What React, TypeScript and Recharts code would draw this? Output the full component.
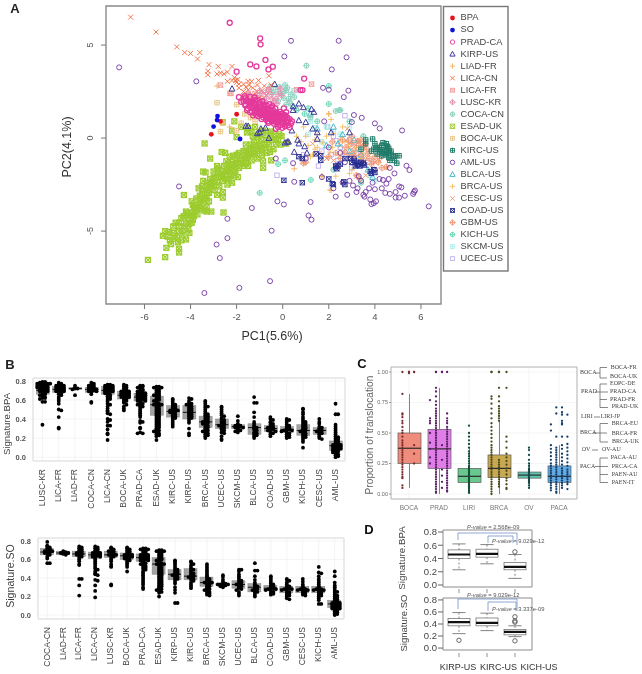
import React from "react";
import { ScatterChart, ComposedChart, Scatter, Bar, XAxis, YAxis, CartesianGrid, ReferenceArea } from "recharts";

type P = [number, number];
/* ---------- Panel A data: PC1 / PC2 ---------- */
const bpaPts: P[] = [[-3.1,.2],[-2.7,.9],[-2,1.28]];
const soPts: P[] = [[-3,.62],[-2.85,.97],[-2.83,1.18],[-1.85,-.05]];
const pradPts: P[] = [[-2.3,6.2],[-.98,5.36],[-.96,5.04],[-.75,4.2],[-1.41,3.96],[-1.14,3.85],[-.43,3.84],[-.62,3.69],[-2,3.57],[.93,3.2],[.77,2.58],[.86,2.58],[-1.9,2.2],[-1.8,1.95],[-1.65,2.25],[-1.62,1.75],
[-1.6,2.15],[-1.42,2.22],[-1.22,2.18],[-1.7,1.98],[-1.52,2.02],[-1.31,1.96],[-1.12,2.05],[-.88,1.98],[-1.62,1.82],[-1.38,1.78],[-1.18,1.84],[-1.02,1.76],[-.83,1.8],[-.58,1.82],[-1.52,1.6],[-1.33,1.63],[-1.08,1.58],[-.92,1.62],[-.72,1.57],[-.5,1.64],[-.32,1.6],[-1.33,1.42],[-1.12,1.38],[-.88,1.44],[-.72,1.36],[-.52,1.43],[-.28,1.38],[-.12,1.41],[-1.28,1.22],[-1.08,1.18],[-.92,1.24],[-.68,1.2],[-.48,1.17],[-.31,1.23],[-.08,1.19],[.12,1.22],[-.92,1.02],[-.72,.98],[-.52,1.04],[-.28,.97],[-.12,1.03],[.08,.98],[.3,1.02],[-.62,.82],[-.38,.78],[-.22,.84],[.02,.8],[.18,.83],[.36,.78],[-.2,.6],[.1,.63],[.3,.58],[-.4,1.1],[-.6,1.3],[-.8,1.5],[-1,1.3],[-.2,1.1],[0,1],[-.4,.9],[-.5,1.5],[-.7,1.1],[-1.2,1.5],[-1.4,1.9],[-.95,1.7],[-.1,.7],[-.3,.5],[.15,1.4],[.05,1.6],
[-1.45,1.72],[-1.25,1.7],[-1.15,1.6],[-1.05,1.48],[-.98,1.36],[-.82,1.3],[-.78,1.68],[-.65,1.5],[-.62,1.42],[-.58,1.24],[-.42,1.32],[-.42,1.5],[-.36,1.2],[-.2,1.3],[-.18,1.18],[-.05,1.3],[0,1.12],[.05,1.24],[.2,1.1],[.22,.95],[-.05,.9],[-.15,.95],[-.3,.88],[-.48,.95],[-.6,1.1],[-.75,1.3],[-.85,1.12],[-1.15,1.25],[-1.22,1.35],[-1,1.9],[-1.25,1.9],[-.7,1.75],[-.45,1.72],[.25,.7],[.4,.9],[.12,.72],[-.02,.55],[-1.55,1.5],[-1.42,1.4],[-1.45,1.95],[-1.2,2.05],[-.9,1.5],[-.65,.9],[.1,1.1]];
const kirpPts: P[] = [[-2.2,2.65],[-1.6,.65],[-1.5,.65],[-1.1,.25],[-1,.3],[-.95,.5],[-.75,.55],[-.6,0],[.2,-.2],[.25,-.2],[.65,-.1],[.1,-.25],[.45,1.7],[.7,1.85],[.9,1.65],[1.25,1.55],[1.35,1.4],[.45,1.5],[.7,.95],[1,.85],[1.3,.5],[.95,-.45],[.5,-.75],[1.05,-.8],[1.5,.3],[1.5,-.05],[2.1,.3],[-.35,2.9],[.4,.4],[2.9,.3],[.7,-.3]];
const liadPts: P[] = [[-2.85,2.8],[-2.6,.85],[.5,-1.65],[2,1.3],[1.7,-2.05],[2.1,-2.8],[-2.3,.6],[1.4,-.1]];
const licaCnPts: P[] = [[-6.6,6.5],[-5.5,5.7],[-4.6,4.9],[-4.25,4.6],[-4,4.55],[-3.6,4.6],[-3.7,4.25],[-3.2,3.95],[-3.25,3.6],[-3.25,3.4],[-2.8,3.85],[-2.85,3.45],[-2.7,3.5],[-2.55,3.45],[-2.4,3.55],[-2.2,3.85],[-2.4,3.05],[-2.2,3.1],[-2.1,3.25],[-2,3],[-1.9,2.9],[-1.7,2.9],[-1.5,3.05],[-1.35,3.05],[-1.05,3.1],[-.6,3.35],[-1.9,2.7],[-1.7,2.5],[-1.5,2.6],[-1.3,2.7],[-1.1,2.5],[-.8,2.8],[-.5,2.85],[-1.6,2.2],[-1.3,2.3],[-1,2.2],[-.9,2.55],[-.7,2.3],[-1.75,2.25],[-1.1,2.85],[-1.45,2.85],[-2.05,3.1],[-1.95,3.15],[-1.6,2.75]];
const licaFrPts: P[] = [[-2.7,2.85],[-2.25,2.4],[.6,2.6],[1.25,2.9],[4.55,-.5],[-1.2,2.4],[-.9,2.1],[-1.5,2.35],[-.6,2.6]];
const luscPts: P[] = [[-1.5,2.4],[-1.3,2.1],[-1.1,2.3],[-.9,2.4],[-.7,2.15],[-.5,2.35],[-.3,2.1],[-1.2,1.9],[-.8,2],[-.4,1.9],[-.6,2.6],[-.2,2.35],[-1.75,2.1],[-1.55,1.9],[-.45,2.1],[-.75,2.45],[-1,2.55],[-.25,1.85],[-.05,2.3],[-.1,2.65]];
const cocaPts: P[] = [[.1,2.85],[-.3,2.6],[-.1,2.4],[.15,2.55],[.35,2.35],[-.2,2],[.05,2.15],[.3,1.95],[.5,2.2],[-.45,2.45],[-.55,2.75],[.15,1.8],[1.03,3.89],[.6,1.5],[1.2,1.1],[2.3,1.45],[2.5,1.5],[.2,2.7],[-.15,2.75],[.05,2.5],[.25,2.1],[.42,1.75]];
const esadPts: P[] = [[-5.85,-6.55],[-5.1,-6.4],[-5.05,-5.9],[-4.5,-5.95],[-4.5,-6.15],[-5.2,-5.25],[-5.1,-5],[-4.95,-5.05],[-4.9,-5.5],[-4.65,-4.55],[-4.5,-4.55],[-4.35,-5.2],[-4.6,-5.3],[-4.55,-5.6],[-4.2,-5.45],[-4.35,-5],[-4.25,-4.75],[-4.5,-5],[-4.7,-5.4],[-4.05,-4.6],[-4.1,-4.3],[-3.95,-4],[-4.15,-4.05],[-4.2,-3.95],[-3.9,-3.6],[-3.8,-3.9],[-3.7,-4.1],[-3.55,-3.8],[-3.4,-3.9],[-3.3,-3.7],[-3.3,-3.95],[-3.6,-3.4],[-3.75,-3.25],[-4.29,-3.06],[-3.5,-3],[-3.3,-3.15],[-3.65,-2.7],[-3.5,-2.6],[-3.45,-2.3],[-3.2,-2.95],[-3.1,-2.6],[-3.35,-1.85],[-3.45,-1.8],[-3.15,-2.2],[-3.05,-2.4],[-2.9,-2.1],[-3,-1.8],[-2.85,-1.5],[-2.75,-2.6],[-2.6,-2.9],[-2.6,-3.2],[-2.7,-2.1],[-2.6,-2.3],[-2.5,-2],[-2.4,-1.7],[-2.35,-2.2],[-2.55,-1.5],[-2.3,-1.8],[-2.2,-1.3],[-2.3,-1],[-2.5,-.8],[-2.65,-.75],[-2.15,-1.65],[-2.1,-2],[-1.95,-2.1],[-1.9,-1.6],[-1.85,-1.2],[-1.7,-1.5],[-1.75,-.95],[-1.6,-.7],[-1.55,-1.1],[-1.45,-.8],[-1.35,-1.2],[-1.3,-.55],[-1.25,-.2],[-1.4,-.35],[-1.1,-.4],[-1.05,-.7],[-.9,-.9],[-.85,-1.25],[-.85,-1.6],[-.5,-1.2],[-.8,-.3],[-.7,-.1],[-.6,-.4],[-.4,-.6],[-.55,.1],[-.35,.2],[-.2,-.1],[-.1,-.35],[-.05,.1],[.15,-.3],[-.85,.4],[-1.05,.2],[-1.2,.6],[-1.55,.3],[-1.8,.6],[-2.1,.9],[-3.39,-.29],[-3.15,-1.1],[-2.6,.85],[-2.2,.4],[-2,.05],[-1.5,.55],[-1.3,.1],[-.95,-.05],[-2.57,-4],[-3.1,-3.95],[-3.9,-4.4],[-3.75,-3.6],[-3.4,-3.3],[-3.2,-3.4],[-3.6,-3.1],[-2.95,-2.8],[-2.85,-3.05],[-2.4,-2.5],[-2.2,-2.4],[-2.05,-1.4],[-1.6,-1.35],[-1.5,-1.5],[-4.05,-5.1],[-4.75,-5.1],[-4.4,-4.3],[-4.3,-4.2],[-3.7,-3.75],[-3.95,-3.4],[-3.3,-2.4],[-2.8,-1.9],[-2.45,-1.25],[-2,-.9],[-1.2,-.85],[-1.1,-1.1],
[-4.0,-4.15],[-3.85,-4.2],[-3.95,-4.55],[-3.85,-3.75],[-3.65,-3.7],[-3.55,-3.3],[-3.45,-3.5],[-3.35,-3.2],[-3.25,-2.8],[-3.4,-2.8],[-3.3,-2.6],[-3.15,-2.5],[-3,-2.55],[-3,-2.15],[-2.85,-2.35],[-2.8,-1.65],[-2.65,-1.85],[-2.45,-1.8],[-2.25,-1.55],[-2.6,-2],[-2.45,-2.2],[-2.25,-2.05],[-2.05,-1.75],[-1.95,-1.35],[-1.8,-1.35],[-1.65,-1.1],[-1.5,-.95],[-1.4,-.6],[-1.25,-.85],[-1.15,-.6],[-1,-.35],[-.9,-.6],[-.75,-.5],[-.7,-.8],[-.55,-.75],[-.45,-.1],[-.3,-.3],[-1.6,-.35],[-1.7,-.7],[-1.9,-.8],[-2,-1.15],[-2.15,-.95],[-2.35,-1.4],[-1.1,.05],[-.95,.3],[-.7,.25],[-.5,.35],[-.3,-.05],[-.15,.2],[-1.35,.35],[-4.2,-4.6],[-4.1,-4.9],[-4.5,-4.75],[-4.75,-4.75],[-5,-5.3],[-4.85,-5.7],[-4.4,-5.5]];
const bocaPts: P[] = [[-2.85,1.9],[-2.7,.35],[-2.6,.8],[-2,1.8],[-1.4,1.1],[-1.2,.9],[-.9,1.3],[-2.3,2.4],[-1.8,.8],[-2,.4],[-1.65,1.3]];
const kircPts: P[] = [[3.6,-.1],[3.9,-.05],[4,-.3],[4.2,-.5],[4.1,-.6],[4.3,-.4],[4.5,-.3],[4.5,-.6],[4.6,-.8],[4.45,-.9],[4.3,-.95],[4.6,-1.05],[4.7,-.7],[4.8,-1],[4.9,-.95],[5.05,-.95],[4.4,-.7],[3.95,-.6],[4.05,-.5],[4.55,-.45],[4.65,-1.2],[4.2,-.75],[3.85,-.7],[3.6,-.3],[4.95,-1.35],[4.85,-1.2],[3.4,-.6],[4.35,-.25],[4.6,-.55],[4.1,-.85],[4.5,-.75],[4.25,-.62],[4.62,-.68],[4.35,-.82],[4.7,-.9]];
const amlPts: P[] = [[-7.1,3.8],[-3.75,3.05],[-4.5,-2.6],[.36,5.23],[2.43,5.23],[2.77,4.34],[.07,4.39],[2.13,3.69],[-1.34,-3.76],[-2.4,-4.34],[-2.4,-5.38],[-2.87,-5.72],[-2.73,-6.45],[-.48,-4.98],[-.23,-3.4],[.05,-3.57],[1.21,-3.44],[1.12,-4.16],[1.25,-4.39],[-.55,-7.69],[-1.88,-8.05],[-3.4,-8.33],[6.34,-3.67],[5.18,.41],[5.7,-2.9],[5.74,-2.82],[5.66,-3],[5.37,-1.49],[5.5,-1.72],[3.09,1.24],[3.43,1.09],[4,.79],[4.21,.52],[3,.86],[3.6,-2.9],[3.8,-3.3],[3.95,-3.5],[4.05,-3.4],[3.85,-3.55],[3.5,-3.05],[3.55,-3.15],[2.3,-3.15],[2.8,-3.05],[3.25,-2.7],[3.4,-2.3],[3.9,-2.4],[4,-2.75],[3.75,-2.7],[4.3,-2.7],[4.45,-2.95],[4.5,-2.45],[4.65,-3],[4.9,-2.9],[4.9,-3.2],[5.05,-3.2],[5.3,-3.1],[5.05,-2.6],[5.15,-2.65],[4.6,-2.2],[4.85,-1.9],[4.2,-2.2],[2.6,-2.4],[1.7,-2.1],[2.9,-2.3],[3.2,-2.9],[2.2,-2.7],[-.3,-1.1],[.45,-1.35],[.5,-2.35],[1,-1.1],[2.3,-1.6],[2.7,-1.3],[3.1,-1.1],[3.5,-1.4],[4,-1.7],[2.5,-.8],[2,-.5],[1.8,.9],[2,2.6],[1.75,2.7],[2.65,2.2],[2.85,2.55],[4.65,-1.6],[3.3,-2.05],[3.05,-2.55],[4.35,-2.25]];
const blcaPts: P[] = [[.6,1.6],[1.2,1.3],[1.5,.5],[2.2,.6],[2.6,.2],[3.1,-.1],[2.9,-.7],[3.4,-.9],[3.7,-1.7],[1.9,-.4],[2.4,-.3],[3.9,-2.1]];
const brcaPts: P[] = [[2.05,-2.8],[1.7,-2.05],[2,1.3],[2.1,1],[1.5,-.5],[1.3,-.9],[1.5,.2],[1.9,.1],[2.15,-.5],[2.4,-.9],[2.7,-.2],[3,-1.7],[2.3,-2.05],[2.9,-1.9],[1,.1],[1.2,-1],[2.6,.6],[3.2,-.5],[3.5,-.8],[.9,.6],[.6,.1],[1.4,-.6],[1.75,-.25],[2.05,-.75],[2.2,.25],[2.5,-.1],[2.85,-.45],[3.05,-.85],[3.35,-1.1],[.8,-.2],[1.1,-.4]];
const cescPts: P[] = [[1.3,-.3],[1.6,-.8],[1.9,-1.1],[2.2,-1.2],[2.5,-.4],[3,-.6],[3.3,-.2],[3.6,-1],[4,-1.3],[4.5,-1.6],[.9,-1.3],[3.6,-2],[3.2,-2.05],[2.8,.5],[2.6,-.75],[2.9,-.25],[3.15,-.4],[3.55,-.55]];
const coadPts: P[] = [[.05,-2.27],[.85,-2.4],[2,-2.2],[2.15,-2.45],[2.2,-2.5],[2.65,-2.35],[2.7,-2.5],[2.5,-1.4],[2.4,-1.5],[2.3,-1.5],[2.35,-1.65],[2.7,-1.1],[2.95,-1.1],[3,-1.3],[3.1,-1.2],[3.2,-1.3],[3.3,-1.4],[3.4,-1.3],[3.5,-1.35],[3.55,-1.45],[3.35,-1.5],[3.25,-1.45],[3.8,-1.8],[3.85,-1.9],[3.95,-1.7],[4,-1.85],[.7,-1],[.85,-1.1],[1.65,-1.2],[1.65,-.95],[1.45,-.85],[3.15,-1.5]];
const gbmPts: P[] = [[2,-1],[2.3,-.8],[2.5,-1.1],[2.75,-.5],[2.9,-.9],[3,-.3],[3.15,-.7],[3.3,-.4],[3.4,-.9],[3.5,-1.2],[3.65,-.6],[3.75,-1.1],[3.85,-1.4],[4,-1],[4.15,-1.3],[4.3,-1.6],[3.2,-2],[3.35,-2.2],[.9,-1.35],[1,-1.3],[2.6,-.1],[3,.1],[3.4,-.1],[4.5,-1.55],[2.15,-.2],[2.85,-.15],[3.25,-.15],[3.55,-.35],[3.7,-.85],[3.1,-.95],[2.7,-.75],[4.2,-1.1],[3.95,-1.25]];
const kichPts: P[] = [[2,2.8],[2,1.83],[-1,-2.95],[1.22,-2.25],[1.5,.9],[.1,-1.2],[-.2,-1.4],[2.45,1.5],[3.5,.1],[2.9,.9],[3.4,-2.4],[2.2,-1.7],[1.1,1.6],[.95,1.3]];
const skcmPts: P[] = [[.5,2.55],[1.2,.9],[1.9,.6],[2.5,.2],[2.9,.6],[3.3,-.6],[3.8,-2],[1.1,.2],[1.7,-.2],[4,-2.3],[1.4,.55],[2.2,.35]];
const ucecPts: P[] = [[.5,2.55],[-.25,-2],[1.55,-1.5],[2.7,1.2],[1.95,.6],[2.2,.1],[2.5,-.5],[2.9,-.1],[3.2,-.8],[3.45,-.3],[3.7,-1.3],[2.4,-1.2],[.9,-.9],[1.7,-.7],[3,-1.6],[2.1,-.9],[2.35,-.15],[2.75,-.95],[3.1,-.25],[3.3,-1.1]];

const pcaLegend = ["BPA","SO","PRAD-CA","KIRP-US","LIAD-FR","LICA-CN","LICA-FR","LUSC-KR","COCA-CN","ESAD-UK","BOCA-UK","KIRC-US","AML-US","BLCA-US","BRCA-US","CESC-US","COAD-US","GBM-US","KICH-US","SKCM-US","UCEC-US"];
const pcaSeries: Record<string, P[]> = {"BPA":bpaPts,"SO":soPts,"PRAD-CA":pradPts,"KIRP-US":kirpPts,"LIAD-FR":liadPts,"LICA-CN":licaCnPts,"LICA-FR":licaFrPts,"LUSC-KR":luscPts,"COCA-CN":cocaPts,"ESAD-UK":esadPts,"BOCA-UK":bocaPts,"KIRC-US":kircPts,"AML-US":amlPts,"BLCA-US":blcaPts,"BRCA-US":brcaPts,"CESC-US":cescPts,"COAD-US":coadPts,"GBM-US":gbmPts,"KICH-US":kichPts,"SKCM-US":skcmPts,"UCEC-US":ucecPts};
const pcaStyle: Record<string,[string,string]> = {"BPA":["dot","#e8121c"],"SO":["dot","#1010e0"],"PRAD-CA":["circle","#e4389a"],"KIRP-US":["tri","#3d3a9a"],"LIAD-FR":["plus","#f0b060"],"LICA-CN":["x","#f26a3c"],"LICA-FR":["sqx","#f09a98"],"LUSC-KR":["dia","#e48fb0"],"COCA-CN":["cplus","#88d0bc"],"ESAD-UK":["sqstar","#9ccc2e"],"BOCA-UK":["sqplus","#e8c88c"],"KIRC-US":["sqplus","#1f7a68"],"AML-US":["circle","#7236a4"],"BLCA-US":["tri","#44b8c8"],"BRCA-US":["plus","#f2c060"],"CESC-US":["x","#f0906a"],"COAD-US":["sqx","#252b90"],"GBM-US":["dia","#f09470"],"KICH-US":["cplus","#68d8b4"],"SKCM-US":["sqplus","#b4ecec"],"UCEC-US":["square","#bdaeec"]};
const pcaDrawOrder = ["ESAD-UK","UCEC-US","SKCM-US","KICH-US","BRCA-US","CESC-US","BLCA-US","LIAD-FR","BOCA-UK","COCA-CN","LICA-FR","GBM-US","AML-US","KIRC-US","COAD-US","KIRP-US","LICA-CN","LUSC-KR","PRAD-CA","BPA","SO"];

function Marker({ kind, color, cx, cy, r = 2.5, sw = 0.9 }: any) {
  const c = { stroke: color, strokeWidth: sw, fill: "none" };
  const h = r, l = r + 0.4;
  const plus = <path d={`M${cx-l} ${cy}H${cx+l}M${cx} ${cy-l}V${cy+l}`} {...c} />;
  const ex = <path d={`M${cx-h} ${cy-h}L${cx+h} ${cy+h}M${cx-h} ${cy+h}L${cx+h} ${cy-h}`} {...c} />;
  switch (kind) {
    case "dot": return <circle cx={cx} cy={cy} r={2.4} fill={color} />;
    case "circle": return <circle cx={cx} cy={cy} r={r} {...c} />;
    case "tri": return <path d={`M${cx} ${cy-r-0.6}L${cx+r+0.4} ${cy+r-0.2}H${cx-r-0.4}Z`} {...c} strokeWidth={1} />;
    case "plus": return plus;
    case "x": return ex;
    case "square": return <rect x={cx-r+0.3} y={cy-r+0.3} width={2*r-0.6} height={2*r-0.6} {...c} />;
    case "sqx": return <g><rect x={cx-r+0.3} y={cy-r+0.3} width={2*r-0.6} height={2*r-0.6} {...c} />{ex}</g>;
    case "sqplus": return <g><rect x={cx-r+0.3} y={cy-r+0.3} width={2*r-0.6} height={2*r-0.6} {...c} />{plus}</g>;
    case "sqstar": return <g><rect x={cx-r} y={cy-r} width={2*r} height={2*r} {...c} />{ex}</g>;
    case "cplus": return <g><circle cx={cx} cy={cy} r={r} {...c} />{plus}</g>;
    case "dia": return <g><path d={`M${cx} ${cy-r-0.6}L${cx+r+0.6} ${cy}L${cx} ${cy+r+0.6}L${cx-r-0.6} ${cy}Z`} {...c} />{plus}</g>;
    default: return null;
  }
}

/* ---------- Panel B data ---------- */
const bpaOrder = ["LUSC-KR","LICA-FR","LIAD-FR","COCA-CN","LICA-CN","BOCA-UK","PRAD-CA","ESAD-UK","KIRC-US","KIRP-US","BRCA-US","UCEC-US","SKCM-US","BLCA-US","COAD-US","GBM-US","KICH-US","CESC-US","AML-US"];
const bpaBox = [[.66,.70,.77,.58,.79],[.68,.71,.74,.59,.78],[.71,.72,.73,.65,.75],[.68,.71,.73,.58,.78],[.66,.70,.74,.5,.76],[.61,.65,.69,.49,.76],[.59,.63,.67,.45,.75],[.44,.55,.64,.18,.74],[.42,.48,.54,.32,.61],[.40,.47,.54,.23,.62],[.31,.37,.43,.2,.59],[.30,.34,.40,.18,.53],[.30,.32,.34,.26,.43],[.24,.31,.35,.2,.47],[.27,.30,.33,.22,.42],[.26,.29,.32,.2,.4],[.23,.28,.34,.1,.51],[.24,.28,.31,.19,.4],[.07,.12,.17,0,.34]];
const bpaVals = [
[.79,.79,.78,.78,.78,.77,.77,.77,.76,.76,.76,.75,.75,.74,.74,.74,.73,.73,.72,.72,.71,.71,.7,.7,.69,.69,.68,.67,.66,.66,.65,.64,.63,.62,.62,.61,.58,.58,.34],
[.78,.77,.76,.76,.75,.75,.74,.74,.73,.73,.72,.72,.71,.71,.7,.7,.69,.69,.68,.67,.66,.65,.63,.61,.59,.56,.5,.49,.42,.31,.3],
[.75,.73,.72,.72,.71,.65],
[.78,.77,.76,.75,.75,.74,.73,.73,.72,.72,.71,.71,.7,.7,.69,.69,.68,.66,.58,.57],
[.76,.76,.75,.75,.74,.74,.73,.73,.72,.72,.71,.71,.7,.7,.69,.69,.68,.68,.67,.66,.65,.64,.63,.62,.61,.6,.58,.56,.55,.53,.51,.49,.48,.46,.45,.4,.39,.37,.33,.33,.29,.25,.24,.18],
[.76,.75,.74,.73,.72,.71,.7,.7,.69,.69,.68,.68,.67,.67,.66,.66,.65,.65,.64,.64,.63,.63,.62,.61,.6,.59,.58,.57,.55,.53,.51,.49],
[.75,.75,.74,.74,.73,.72,.71,.7,.7,.69,.68,.68,.67,.67,.66,.66,.65,.65,.64,.64,.63,.63,.62,.62,.61,.61,.6,.6,.59,.59,.58,.57,.56,.55,.54,.53,.52,.5,.48,.46,.44,.42,.38,.37,.36,.31,.3,.26,.25,.25],
[.74,.74,.73,.73,.72,.71,.7,.69,.68,.67,.66,.65,.65,.64,.63,.62,.61,.6,.6,.59,.58,.57,.56,.55,.55,.54,.53,.52,.51,.5,.49,.48,.47,.46,.45,.44,.43,.42,.41,.4,.39,.38,.37,.36,.35,.34,.33,.32,.31,.3,.29,.28,.27,.26,.25,.24,.23,.22,.18],
[.61,.6,.58,.56,.55,.54,.53,.52,.51,.5,.5,.49,.49,.48,.48,.47,.46,.45,.44,.43,.42,.41,.4,.38,.36,.34,.32],
[.62,.61,.59,.57,.56,.55,.54,.53,.52,.51,.5,.49,.48,.47,.46,.45,.44,.43,.42,.41,.4,.38,.36,.3,.25,.23],
[.59,.58,.56,.54,.53,.52,.5,.48,.46,.45,.44,.43,.42,.41,.4,.39,.38,.37,.37,.36,.36,.35,.34,.33,.32,.31,.3,.29,.28,.27,.26,.25,.24,.23,.22,.2],
[.53,.52,.5,.48,.46,.44,.43,.41,.4,.39,.38,.37,.36,.35,.34,.34,.33,.32,.31,.3,.29,.28,.26,.25,.22,.19,.18],
[.43,.38,.35,.34,.33,.33,.32,.32,.31,.31,.3,.29,.28,.27,.26],
[.63,.57,.57,.47,.42,.37,.35,.33,.32,.31,.3,.29,.28,.26,.25,.24,.23,.22,.2],
[.42,.4,.39,.37,.36,.35,.34,.33,.32,.31,.31,.3,.3,.29,.29,.28,.27,.26,.25,.24,.22],
[.4,.39,.38,.36,.34,.33,.32,.31,.3,.3,.29,.29,.28,.28,.27,.26,.25,.24,.23,.22,.21,.2],
[.51,.5,.47,.45,.42,.4,.38,.37,.36,.35,.34,.33,.32,.31,.3,.3,.29,.28,.27,.26,.25,.24,.23,.22,.21,.2,.18,.16,.1],
[.4,.37,.35,.32,.31,.3,.29,.28,.27,.26,.25,.24,.22,.2,.19],
[.56,.45,.45,.34,.32,.3,.28,.26,.24,.22,.21,.2,.19,.18,.17,.16,.15,.14,.14,.13,.13,.12,.12,.11,.11,.1,.1,.09,.09,.08,.08,.07,.06,.06,.05,.04,.03,.02,.01,0]];
const soOrder = ["COCA-CN","LIAD-FR","LICA-FR","LICA-CN","LUSC-KR","BOCA-UK","PRAD-CA","ESAD-UK","KIRP-US","KIRC-US","BRCA-US","SKCM-US","UCEC-US","BLCA-US","COAD-US","GBM-US","CESC-US","KICH-US","AML-US"];
const soBox = [[.65,.68,.72,.56,.79],[.65,.67,.69,.65,.69],[.63,.66,.69,.55,.74],[.61,.65,.68,.49,.74],[.62,.65,.69,.52,.73],[.6,.64,.67,.47,.73],[.58,.62,.66,.43,.72],[.44,.55,.62,.2,.7],[.38,.44,.49,.24,.59],[.38,.42,.5,.29,.58],[.31,.35,.41,.21,.55],[.32,.33,.34,.3,.43],[.29,.33,.37,.21,.49],[.25,.3,.34,.2,.48],[.26,.29,.32,.22,.42],[.24,.28,.31,.17,.39],[.24,.27,.31,.21,.39],[.24,.27,.31,.16,.46],[.08,.12,.16,0,.3]];
const soVals = [
[.79,.75,.74,.73,.72,.71,.7,.7,.69,.69,.68,.68,.67,.66,.65,.63,.61,.56,.56],
[.69,.68,.68,.67,.67,.66,.65],
[.74,.73,.72,.71,.7,.69,.68,.67,.67,.66,.66,.65,.64,.63,.62,.6,.58,.55,.54,.39,.39,.32,.21],
[.74,.73,.72,.71,.7,.69,.68,.68,.67,.67,.66,.66,.65,.65,.64,.64,.63,.63,.62,.6,.58,.56,.54,.52,.5,.49,.47,.45,.44,.43,.38,.37,.32,.26,.19],
[.73,.72,.71,.7,.69,.69,.68,.67,.66,.66,.65,.65,.64,.63,.62,.6,.58,.55,.53,.52,.33,.32],
[.73,.72,.71,.7,.69,.68,.67,.66,.66,.65,.65,.64,.64,.63,.63,.62,.62,.61,.6,.59,.58,.56,.54,.52,.47],
[.72,.72,.71,.71,.7,.69,.68,.67,.66,.66,.65,.65,.64,.64,.63,.63,.62,.62,.61,.61,.6,.6,.59,.59,.58,.57,.56,.55,.54,.53,.52,.51,.5,.49,.47,.45,.43,.41,.39,.37,.35,.33,.3,.28],
[.7,.7,.69,.69,.68,.67,.66,.65,.64,.63,.62,.61,.6,.6,.59,.58,.57,.56,.55,.55,.54,.53,.52,.51,.5,.49,.48,.47,.46,.45,.44,.43,.42,.41,.4,.39,.38,.37,.36,.35,.34,.33,.32,.31,.3,.29,.28,.27,.26,.25,.24,.2],
[.59,.58,.56,.54,.52,.5,.49,.48,.47,.46,.45,.44,.44,.43,.42,.41,.4,.39,.38,.36,.34,.3,.27,.24,.13,.13],
[.58,.57,.55,.54,.52,.5,.49,.48,.46,.45,.44,.43,.42,.42,.41,.4,.39,.38,.37,.35,.33,.31,.29],
[.55,.53,.51,.49,.47,.45,.43,.42,.4,.39,.38,.37,.36,.36,.35,.35,.34,.33,.32,.31,.3,.29,.28,.27,.26,.25,.24,.23,.22,.21],
[.43,.41,.38,.36,.34,.34,.33,.33,.33,.32,.32,.31,.3],
[.49,.49,.47,.44,.42,.4,.38,.37,.36,.35,.34,.33,.33,.32,.31,.3,.29,.28,.27,.25,.23,.21],
[.56,.48,.48,.42,.38,.35,.33,.32,.31,.3,.29,.28,.27,.26,.25,.24,.22,.2],
[.42,.4,.38,.36,.34,.33,.32,.31,.3,.3,.29,.29,.28,.28,.27,.26,.25,.24,.23,.22],
[.39,.38,.37,.35,.33,.32,.31,.3,.3,.29,.29,.28,.28,.27,.26,.25,.24,.23,.22,.21,.2,.18,.17],
[.39,.36,.33,.31,.3,.29,.28,.28,.27,.27,.26,.25,.24,.23,.22,.21],
[.52,.46,.45,.42,.39,.37,.35,.33,.31,.3,.29,.28,.28,.27,.27,.26,.25,.24,.23,.22,.21,.2,.18,.16,.12,.12],
[.47,.42,.35,.32,.3,.28,.26,.25,.24,.22,.21,.2,.19,.18,.17,.16,.15,.14,.14,.13,.13,.12,.12,.11,.11,.1,.1,.09,.09,.08,.08,.07,.07,.06,.05,.04,.03,.02,.01,0]];

/* ---------- Panel C data ---------- */
const transCats = ["BOCA","PRAD","LIRI","BRCA","OV","PACA"];
const transBox = [[.25,.375,.5,.05,.82],[.21,.37,.53,0,.87],[.095,.145,.21,0,.38],[.135,.21,.32,0,.6],[.13,.155,.18,.06,.25],[.095,.145,.23,0,.4]];
const transFill = ["#f08c7c","#e07ee8","#68c88e","#c8a850","#60c4b0","#62aae2"];
const transDot = ["#7a3030","#5a1f66","#13503a","#4a4a1e","#134a48","#143f6c"];
const transOffsets = [[-.22,0,.17],[-.3,-.1,.1,.27],[0],[-.25,0,.25],[0],[-.27,-.09,.1,.28]];
const transVals: number[][][] = [
[[1,.82,.66,.65,.63,.6,.58,.55,.52,.5,.47,.44,.42,.4,.38,.36,.34,.32,.3,.28,.26,.24,.22,.2,.18,.16,.14,.13,.07,.05],[1,1,.99],[1,1,.4,.33,.25]],
[[.77,.62,.6,.58,.5,.42,.37,.3,.25],[1,1,.87,.84,.8,.76,.73,.7,.68,.66,.64,.62,.6,.58,.56,.54,.52,.5,.48,.46,.44,.42,.4,.38,.36,.34,.32,.3,.28,.26,.24,.22,.2,.18,.16,.14,.12,.1,.08,.06,.04,.02,.01],[1,1,.4,.28,.2,.15,.1,.05],[1,.66,.62,.6,.58,.55,.53,.51,.49,.47,.45,.43,.41,.39,.37,.35,.33,.31,.29,.27,.25,.23,.21,.19,.17,.15,.13,.11,.09,.07,.05,.03,.02]],
[[.56,.5,.47,.44,.41,.38,.35,.33,.31,.29,.27,.25,.23,.22,.21,.2,.19,.18,.17,.16,.15,.14,.13,.12,.11,.1,.09,.08,.07,.06,.05,.04,.03,.02,.01]],
[[1,1,.8,.78,.74,.7,.66,.62,.58,.55,.52,.49,.46,.43,.4,.38,.36,.34,.32,.3,.28,.26,.24,.22,.2,.18,.16,.14,.12,.1,.08,.06,.04,.02,0],[1,1,.87,.8,.76,.72,.7,.68,.66,.64,.62,.6,.28,.26,.24,.22,.2,.18,.16,.14,.12,.1,.08,.06],[1,.87,.47,.43,.38,.33,.3,.27,.24,.21,.19,.16,.13,.11,.08,.05,.04]],
[[.38,.36,.32,.28,.25,.23,.21,.2,.19,.18,.17,.16,.15,.14,.13,.12,.11,.1,.09,.07,.05]],
[[.57,.52,.4,.37,.34,.31,.28,.25,.23,.21,.19,.17,.15,.13,.11,.09,.07,.05,.03],[.71,.66,.47,.38,.36,.34,.32,.3,.28,.26,.24,.22,.2,.18,.16,.14,.12,.1,.08,.06,.04,.02,.01],[.71,.67,.65,.6,.58,.57,.47,.4,.37,.33,.3,.27,.24,.21,.19,.17,.15,.13,.11,.09,.07,.05],[.65,.47,.41,.38,.35,.32,.29,.26,.23,.2,.18,.16,.14,.12,.1,.08,.04]]];
const treeLabels: [string,number,number][] = [["BOCA",580,373],["BOCA-FR",610.7,368],["BOCA-UK",610,377],["PRAD",581,392],["EOPC-DE",610,384],["PRAD-CA",610,392],["PRAD-FR",610,399.5],["PRAD-UK",611.7,407],["LIRI",581,417],["LIRI-JP",600.7,417],["BRCA",580,433],["BRCA-EU",611.7,424],["BRCA-FR",611.7,433.5],["BRCA-UK",612,442],["OV",581.7,450],["OV-AU",602,450],["PACA",580,466.5],["PACA-AU",610.7,458],["PRCA-CA",611.7,467],["PAEN-AU",611.7,475],["PAEN-IT",611.7,483]];
const treeLines = "M596 373H600M600 367.5V378M600 367.5H607M600 378H607M595 392H608M600 384V407.5M600 384H607M600 399.5H607M600 407.5H608M594 417H600M593 433H607M600 423.5V442M600 423.5H608M600 442H608M592 450H598M595 466.5H608M600 458V482.5M600 458H608M600 474.5H608M600 482.5H608";

/* ---------- Panel D data ---------- */
const dCats = ["KIRP-US","KIRC-US","KICH-US"];
const dBpaBox = [[.40,.46,.53,.23,.62],[.42,.47,.54,.32,.61],[.23,.275,.34,.10,.46]];
const dSoBox = [[.37,.43,.49,.24,.59],[.37,.42,.50,.29,.58],[.22,.27,.31,.19,.37]];
const dBpaOut: P[] = [[3,.5]];
const dSoOut: P[] = [[1,.13],[3,.52],[3,.45],[3,.43],[3,.12]];

function BoxShape(p: any) {
  const { x, y, width, height, payload, line, medianW = 1.6, medianC = "#000", whisk, fill, fo, st, dash, cap = 0.6 } = p;
  const b = payload.box;
  const top = Math.min(y, y + height);
  const unit = Math.abs(height) / (b[2] - b[0]);
  const Y = (v: number) => top + (b[2] - v) * unit;
  const cx = x + width / 2;
  const capW = width * cap / 2;
  return (
    <g>
      {whisk && <path d={`M${cx} ${Y(b[4])}V${Y(b[2])}M${cx} ${Y(b[0])}V${Y(b[3])}`} stroke={whisk} strokeWidth={0.8} strokeDasharray={dash} fill="none" />}
      {whisk && dash && <path d={`M${cx-capW} ${Y(b[4])}H${cx+capW}M${cx-capW} ${Y(b[3])}H${cx+capW}`} stroke={whisk} strokeWidth={0.8} fill="none" />}
      <rect x={x} y={top} width={width} height={Math.abs(height)} fill={payload.fill || fill} fillOpacity={fo} stroke={st} strokeWidth={line} />
      <line x1={x} x2={x + width} y1={Y(b[1])} y2={Y(b[1])} stroke={medianC} strokeWidth={medianW} />
    </g>
  );
}

function swarm(vals: number[], center: number, step: number) {
  const seen: Record<number, number> = {};
  return vals.map((v) => {
    const key = Math.round(v * 50);
    const k = seen[key] || 0;
    seen[key] = k + 1;
    const off = k === 0 ? 0 : (k % 2 ? 1 : -1) * Math.ceil(k / 2) * step;
    return { x: center + off, y: v };
  });
}

const fontSans = "'Liberation Sans', Arial, sans-serif";
const RotTick = ({ x, y, payload, fs = 8.5, c = "#444" }: any) => (
  <text x={x} y={y} transform={`rotate(-90 ${x} ${y})`} textAnchor="end" dominantBaseline="middle" fontSize={fs} fill={c} fontFamily={fontSans}>{payload.value}</text>
);
const Lbl = ({ x, y, t, fs, c = "#555", rot, bold, ff = fontSans, anchor = "middle", italic }: any) => (
  <text x={x} y={y} transform={rot ? `rotate(-90 ${x} ${y})` : undefined} textAnchor={anchor} dominantBaseline="middle" fontSize={fs} fill={c} fontWeight={bold ? 700 : 400} fontFamily={ff} fontStyle={italic ? "italic" : undefined}>{t}</text>
);

function StripChart({ cats, box, vals, left, top, width, height, plotLeft, plotRight, plotTop, plotBottom, domain }: any) {
  const rows = cats.map((c: string, i: number) => ({ name: c, range: [box[i][0], box[i][2]], box: box[i] }));
  const pts = vals.flatMap((v: number[], i: number) => swarm(v, i + 1, 0.16));
  return (
    <div style={{ position: "absolute", left, top }}>
      <ComposedChart width={width} height={height} data={rows} margin={{ top: plotTop, left: 0, right: width - plotRight, bottom: 0 }}>
        <CartesianGrid stroke="#ececec" strokeWidth={0.6} />
        <XAxis dataKey="name" type="category" interval={0} height={height - plotBottom} padding={{ left: 1.3, right: 1.3 }} tick={<RotTick />} tickLine={false} axisLine={false} tickMargin={2} />
        <XAxis xAxisId="n" dataKey="x" type="number" domain={[.42, 19.58]} hide allowDataOverflow />
        <YAxis dataKey="y" type="number" domain={domain} ticks={[0, .2, .4, .6, .8]} interval={0} width={plotLeft} tickFormatter={(v: number) => v.toFixed(1)} tick={{ fontSize: 7.5, fill: "#555", fontFamily: fontSans, fontWeight: 700 }} tickLine={false} axisLine={false} tickMargin={1} allowDataOverflow />
        <ReferenceArea xAxisId="n" x1={.42} x2={19.58} y1={domain[0]} y2={domain[1]} fill="none" stroke="#dcdcdc" strokeWidth={1} />
        <Scatter xAxisId="n" data={pts} isAnimationActive={false} shape={(p: any) => <circle cx={p.cx} cy={p.cy} r={1.9} fill="#000" />} />
        <Bar dataKey="range" barSize={13} isAnimationActive={false} shape={(p: any) => <BoxShape {...p} fill="#666" fo={0.6} st="#888" line={0.5} medianC="#111" medianW={1} />} />
      </ComposedChart>
    </div>
  );
}

function PanelC() {
  const rows = transCats.map((c, i) => ({ name: c, range: [transBox[i][0], transBox[i][2]], box: transBox[i], fill: transFill[i] }));
  const groups = transVals.map((g, i) => g.flatMap((col, j) => col.map((v) => ({ x: i + 1 + transOffsets[i][j], y: v }))));
  const domain = [-.041, 1.041];
  return (
    <div style={{ position: "absolute", left: 350, top: 340 }}>
      <ComposedChart width={240} height={175} data={rows} margin={{ top: 27, left: 41 - 30, right: 13, bottom: 0 }}>
        <CartesianGrid stroke="#eeeeee" strokeWidth={0.6} />
        <XAxis dataKey="name" type="category" interval={0} height={16} padding={{ left: 3, right: 3 }} tick={{ fontSize: 6.5, fill: "#777", fontFamily: fontSans }} tickLine={false} axisLine={false} tickMargin={0} />
        <XAxis xAxisId="n" dataKey="x" type="number" domain={[.4, 6.6]} hide allowDataOverflow />
        <YAxis dataKey="y" type="number" domain={domain} ticks={[0, .25, .5, .75, 1]} interval={0} width={30} tickFormatter={(v: number) => v.toFixed(2)} tick={{ fontSize: 5.5, fill: "#666", fontFamily: fontSans }} tickSize={2} stroke="#999" axisLine={false} tickMargin={1} allowDataOverflow />
        <ReferenceArea xAxisId="n" x1={.4} x2={6.6} y1={domain[0]} y2={domain[1]} fill="none" stroke="#b5b5b5" strokeWidth={1} />
        <Bar dataKey="range" barSize={23} isAnimationActive={false} shape={(p: any) => <BoxShape {...p} fo={1} st="#5c5c5c" line={0.7} medianC="#2c2c2c" medianW={1.2} whisk="#666" />} />
        {groups.map((g, i) => (
          <Scatter key={transCats[i]} xAxisId="n" data={g} isAnimationActive={false} shape={(p: any) => <circle cx={p.cx} cy={p.cy} r={1.15} fill={transDot[i]} />} />
        ))}
      </ComposedChart>
    </div>
  );
}

function PanelD({ box, out, top, height, plotTop, domain }: any) {
  const rows = dCats.map((c, i) => ({ name: c, range: [box[i][0], box[i][2]], box: box[i] }));
  const pts = out.map((o: P) => ({ x: o[0], y: o[1] }));
  return (
    <div style={{ position: "absolute", left: 400, top }}>
      <ComposedChart width={140} height={height} data={rows} margin={{ top: plotTop, left: 13, right: 8, bottom: 0 }}>
        <XAxis dataKey="name" type="category" interval={0} height={8} padding={{ left: 2, right: 3 }} tick={false} tickSize={5} stroke="#888" axisLine={false} />
        <XAxis xAxisId="n" dataKey="x" type="number" domain={[.43, 3.61]} hide allowDataOverflow />
        <YAxis dataKey="y" type="number" domain={domain} ticks={[0, .2, .4, .6, .8]} interval={0} width={30} tickFormatter={(v: number) => v.toFixed(1)} tick={{ fontSize: 9.5, fill: "#444", fontFamily: fontSans }} tickSize={5} stroke="#666" axisLine={false} tickMargin={1} allowDataOverflow />
        <ReferenceArea xAxisId="n" x1={.43} x2={3.61} y1={domain[0]} y2={domain[1]} fill="none" stroke="#8c8c8c" strokeWidth={1} />
        <Bar dataKey="range" barSize={22} isAnimationActive={false} shape={(p: any) => <BoxShape {...p} fill="#fff" fo={1} st="#777" line={0.8} medianC="#111" medianW={2.2} whisk="#666" dash="2 2" />} />
        <Scatter xAxisId="n" data={pts} isAnimationActive={false} shape={(p: any) => <circle cx={p.cx} cy={p.cy} r={2.2} fill="none" stroke="#555" strokeWidth={0.9} />} />
      </ComposedChart>
    </div>
  );
}

const RotY = ({ x, y, payload }: any) => (
  <text x={x - 6} y={y} transform={`rotate(-90 ${x - 6} ${y})`} textAnchor="middle" fontSize={9} fill="#555" fontFamily={fontSans}>{payload.value}</text>
);

function Overlay() {
  return (
    <svg width={642} height={674} style={{ position: "absolute", left: 0, top: 0, pointerEvents: "none" }}>
      <Lbl x={15} y={10} t="A" fs={13} bold c="#222" />
      <Lbl x={10} y={366} t="B" fs={13} bold c="#222" />
      <Lbl x={362} y={365} t="C" fs={13} bold c="#111" />
      <Lbl x={369} y={531} t="D" fs={13} bold c="#111" />
      <Lbl x={272} y={337} t="PC1(5.6%)" fs={12.5} c="#333" />
      <Lbl x={68} y={147} t="PC2(4.1%)" fs={12.5} c="#333" rot />
      <Lbl x={7} y={424} t="Signature.BPA" fs={9.6} c="#444" rot />
      <Lbl x={11} y={576} t="Signature.SO" fs={10.6} c="#444" rot />
      <Lbl x={370} y={435} t="Proportion of translocation" fs={10.2} c="#666" rot />
      <Lbl x={402} y={558} t="Signature.BPA" fs={9.8} c="#444" rot />
      <Lbl x={404} y={623} t="Signature.SO" fs={9.5} c="#444" rot />
      {dCats.map((c, i) => <Lbl key={c} x={458 + 40.5 * i} y={668} t={c} fs={9} c="#333" />)}
      {[459, 487, 515].map((x) => <path key={x} d={`M${x} 589V593M${x} 653V657`} stroke="#777" strokeWidth={0.8} />)}
      <path d="M458 540V533H517V545M488 543V536H513V543" fill="none" stroke="#6f8fc4" strokeWidth={0.8} />
      <path d="M458 609V599H517V611M488 611V602H516V611" fill="none" stroke="#6f8fc4" strokeWidth={0.8} />
      <text x={467} y={529} fontSize={5.8} fill="#555" fontFamily={fontSans}><tspan fontStyle="italic">P-value</tspan> =  2.568e-09</text>
      <text x={492} y={543} fontSize={5.8} fill="#555" fontFamily={fontSans}><tspan fontStyle="italic">P-value</tspan> = 9.029e-12</text>
      <text x={467} y={597} fontSize={5.8} fill="#555" fontFamily={fontSans}><tspan fontStyle="italic">P-value</tspan> = 9.029e-12</text>
      <text x={492} y={611} fontSize={5.8} fill="#555" fontFamily={fontSans}><tspan fontStyle="italic">P-value</tspan> = 3.337e-09</text>
      {treeLabels.map(([t, x, y]) => <Lbl key={t + x} x={x} y={y} t={t} fs={6} c="#444" ff="'Liberation Serif', serif" anchor="start" />)}
      <path d={treeLines} fill="none" stroke="#555" strokeWidth={0.7} />
      <rect x={443.5} y={6.5} width={64.5} height={264.5} fill="#fff" stroke="#777" strokeWidth={1.4} />
      {pcaLegend.map((name, i) => {
        const y = 18 + i * 12.03;
        const [kind, color] = pcaStyle[name];
        return (
          <g key={name}>
            <Marker kind={kind} color={color} cx={452.5} cy={y} r={2.2} />
            <Lbl x={460.5} y={y} t={name} fs={9.3} c="#444" anchor="start" />
          </g>
        );
      })}
    </svg>
  );
}

export default function App() {
  return (
    <div style={{ position: "absolute", left: 0, top: 0, width: 642, height: 674, overflow: "hidden", background: "#fff", filter: "blur(0.5px)" }}>
      <div style={{ position: "absolute", left: 0, top: 0 }}>
        <ScatterChart width={460} height={330} margin={{ top: 6, left: 70, right: 19, bottom: 0 }}>
          <XAxis dataKey="x" type="number" domain={[-7.67, 6.87]} ticks={[-6, -4, -2, 0, 2, 4, 6]} height={26} tickSize={5} tickMargin={4} stroke="#777" axisLine={false} tick={{ fontSize: 9.5, fill: "#555", fontFamily: fontSans }} allowDataOverflow />
          <YAxis dataKey="y" type="number" domain={[-8.92, 7.1]} ticks={[-5, 0, 5]} interval={0} width={36} tickSize={5} stroke="#777" axisLine={false} tick={<RotY />} allowDataOverflow />
          <ReferenceArea x1={-7.67} x2={6.87} y1={-8.92} y2={7.1} fill="none" stroke="#8a8a8a" strokeWidth={1.4} />
          {pcaDrawOrder.map((name) => {
            const [kind, color] = pcaStyle[name];
            const sw = name === "ESAD-UK" ? 1.25 : name === "PRAD-CA" ? 1.3 : 0.9;
            return (
              <Scatter key={name} name={name} data={pcaSeries[name].map(([x, y]) => ({ x, y }))} isAnimationActive={false}
                shape={(p: any) => <Marker kind={kind} color={color} cx={p.cx} cy={p.cy} sw={sw} />} />
            );
          })}
        </ScatterChart>
      </div>
      <StripChart cats={bpaOrder} box={bpaBox} vals={bpaVals} left={0} top={370} width={350} height={150} plotLeft={33} plotRight={345} plotTop={8} plotBottom={91} domain={[-.04, .83]} />
      <StripChart cats={soOrder} box={soBox} vals={soVals} left={0} top={530} width={350} height={140} plotLeft={38} plotRight={344} plotTop={8} plotBottom={89} domain={[-.043, .832]} />
      <PanelC />
      <PanelD box={dBpaBox} out={dBpaOut} top={525} height={70} plotTop={5} domain={[-.03, .83]} />
      <PanelD box={dSoBox} out={dSoOut} top={593} height={65} plotTop={5} domain={[-.032, .832]} />
      <Overlay />
    </div>
  );
}
